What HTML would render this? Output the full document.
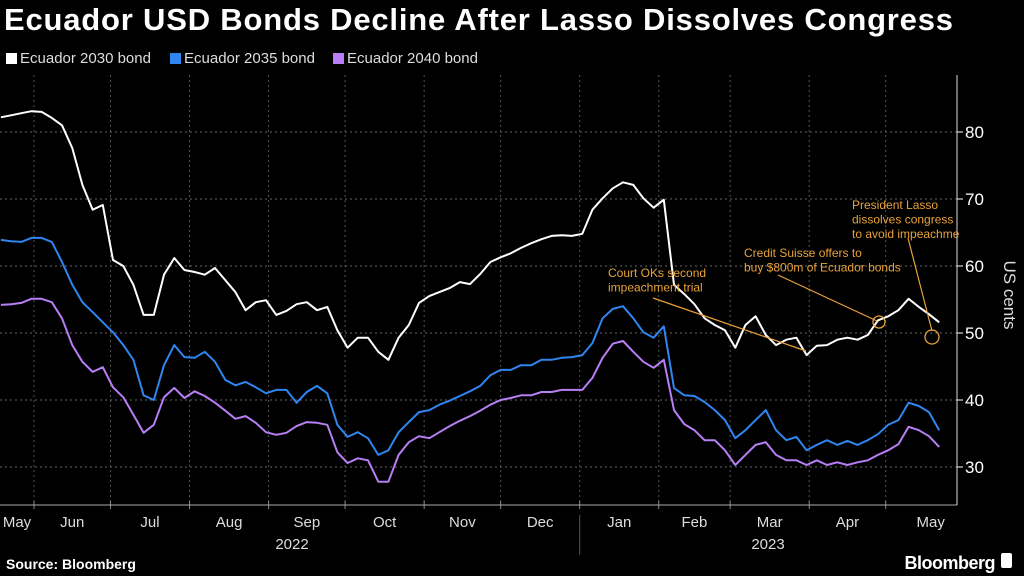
<!DOCTYPE html>
<html><head><meta charset="utf-8"><style>
html,body{margin:0;padding:0;background:#000;width:1024px;height:576px;overflow:hidden;font-family:"Liberation Sans",sans-serif;color:#fff}
#title{position:absolute;left:4px;top:2px;font-size:31px;font-weight:bold;letter-spacing:0.8px;white-space:nowrap}
.leg{position:absolute;top:50px;font-size:15px;color:#ddd;white-space:nowrap}
.sw{display:inline-block;width:11px;height:11px;margin-right:3px;vertical-align:-1px}
</style></head><body>
<div id="title">Ecuador USD Bonds Decline After Lasso Dissolves Congress</div>
<div class="leg" style="left:6px"><span class="sw" style="background:#fff"></span>Ecuador 2030 bond</div>
<div class="leg" style="left:170px"><span class="sw" style="background:#2f86f0"></span>Ecuador 2035 bond</div>
<div class="leg" style="left:333px"><span class="sw" style="background:#b87ff5"></span>Ecuador 2040 bond</div>
<svg id="chart" width="1024" height="576" style="position:absolute;left:0;top:0"></svg>
<script>
const yTicks=[30,40,50,60,70,80];
const months=["May","Jun","Jul","Aug","Sep","Oct","Nov","Dec","Jan","Feb","Mar","Apr","May"];
const monthStartDays=[-31,0,30,61,92,122,153,183,214,245,273,304,334];
const s2030=[82.2,82.5,82.8,83.1,83.0,82.1,81.0,77.6,72.1,68.4,69.1,60.9,60.0,57.2,52.7,52.7,58.7,61.2,59.4,59.1,58.7,59.7,57.9,56.1,53.4,54.6,54.9,52.7,53.3,54.3,54.6,53.4,53.9,50.4,47.8,49.3,49.3,47.2,46.0,49.3,51.2,54.5,55.5,56.1,56.7,57.6,57.3,58.8,60.6,61.3,61.9,62.7,63.4,64.0,64.5,64.6,64.5,64.8,68.4,70.1,71.6,72.5,72.1,70.1,68.7,69.9,57.2,55.8,54.3,52.2,51.2,50.4,47.8,51.2,52.5,49.7,48.2,49.0,49.3,46.7,48.1,48.2,49.0,49.3,49.0,49.7,51.9,52.5,53.4,55.1,53.9,52.8,51.6];
const s2035=[63.9,63.7,63.6,64.2,64.2,63.6,60.6,57.2,54.6,53.1,51.6,50.1,48.2,46.0,40.7,40.0,45.2,48.2,46.4,46.3,47.2,45.7,43.0,42.2,42.7,41.9,41.0,41.5,41.5,39.6,41.2,42.1,41.0,36.3,34.5,35.2,34.3,31.8,32.5,35.2,36.7,38.2,38.5,39.3,39.9,40.6,41.3,42.1,43.7,44.5,44.5,45.2,45.2,46.0,46.0,46.3,46.4,46.7,48.5,52.2,53.6,54.0,52.2,50.1,49.3,51.0,41.8,40.7,40.6,39.7,38.5,37.0,34.3,35.5,37.0,38.5,35.5,34.0,34.5,32.5,33.3,34.0,33.3,33.9,33.3,34.0,34.9,36.3,37.0,39.6,39.1,38.2,35.5];
const s2040=[54.2,54.3,54.5,55.1,55.1,54.6,52.2,48.2,45.7,44.2,44.9,41.9,40.4,37.8,35.1,36.3,40.4,41.8,40.3,41.3,40.6,39.6,38.4,37.2,37.6,36.6,35.2,34.8,35.1,36.1,36.7,36.6,36.3,32.2,30.6,31.3,31.0,27.8,27.8,31.8,33.7,34.6,34.3,35.2,36.1,36.9,37.6,38.4,39.3,40.0,40.3,40.7,40.7,41.2,41.2,41.5,41.5,41.5,43.3,46.3,48.4,48.8,47.2,45.7,44.8,46.0,38.5,36.4,35.5,34.0,34.0,32.5,30.3,31.8,33.3,33.7,31.8,31.0,31.0,30.3,31.0,30.3,30.7,30.3,30.7,31.0,31.8,32.5,33.4,36.0,35.5,34.6,33.0];
const startDay=-13, stepDays=4;
const days=[];for(let i=0;i<s2030.length;i++)days.push(startDay+i*stepDays);

const NS="http://www.w3.org/2000/svg";
const svg=document.getElementById('chart');
const X=d=>34+d*2.55;
const Y=v=>132+(80-v)*6.7;
const plotR=957, plotT=75, plotB=505;
function mk(t,a,p){const e=document.createElementNS(NS,t);for(const k in a)e.setAttribute(k,a[k]);(p||svg).appendChild(e);return e;}

yTicks.forEach(v=>{
  const g=mk('line',{x1:0,x2:plotR,y1:Y(v),y2:Y(v),stroke:'#666','stroke-width':1,'stroke-dasharray':'2,3'});
  
  
  const tk=mk('line',{x1:plotR,x2:plotR+6,y1:Y(v),y2:Y(v),stroke:'#fff'});
  
  
  const t=mk('text',{x:plotR+8,y:Y(v)+6,fill:'#fff','font-size':17,'font-family':'Liberation Sans'});
  t.textContent=v;
  
  
});
for(let i=1;i<monthStartDays.length;i++){
  const x=X(monthStartDays[i]);
  const g=mk('line',{x1:x,x2:x,y1:plotT,y2:plotB,stroke:'#555','stroke-width':1,'stroke-dasharray':'2,3'});
  
  
  const tk=mk('line',{x1:x,x2:x,y1:plotB-4,y2:plotB+4,stroke:'#888'});
  
  
}
for(let i=0;i<months.length;i++){
  const a=monthStartDays[i], b=i+1<monthStartDays.length?monthStartDays[i+1]:monthStartDays[i]+31;
  let cx=X((a+b)/2); if(i==0)cx=17; if(i==months.length-1)cx=X(a)+45;
  const t=mk('text',{x:cx,y:527,fill:'#ddd','font-size':15,'text-anchor':'middle','font-family':'Liberation Sans'});
  t.textContent=months[i];
  
  
}
mk('line',{x1:0,x2:plotR,y1:plotB,y2:plotB,stroke:'#aaa'});
mk('line',{x1:plotR,x2:plotR,y1:plotT,y2:plotB,stroke:'#ddd'});
mk('line',{x1:X(214),x2:X(214),y1:515,y2:555,stroke:'#555'});
[['2022',292],['2023',768]].forEach(([t,x])=>{const e=mk('text',{x:x,y:549,fill:'#ddd','font-size':15,'text-anchor':'middle'});e.textContent=t;});
const yt=mk('text',{x:1004,y:295,fill:'#ddd','font-size':17,'text-anchor':'middle',transform:'rotate(90 1004 295)'});
yt.textContent='US cents';



[[s2040,'#b87ff5','line-2040'],[s2035,'#2f86f0','line-2035'],[s2030,'#ffffff','line-2030']].forEach(([s,c,n])=>{
  const pts=s.map((v,i)=>X(days[i]).toFixed(1)+','+Y(v).toFixed(1)).join(' ');
  const p=mk('polyline',{points:pts,fill:'none',stroke:c,'stroke-width':2,'stroke-linejoin':'round'});
  
  
});

const O='#e8a23a';
function note(lines,x,y,name){lines.forEach((l,i)=>{const t=mk('text',{x:x,y:y+i*14.5,fill:O,'font-size':12,'font-family':'Liberation Sans'});t.textContent=l;});}
note(['Court OKs second','impeachment trial'],608,277,'annotation-court');
note(['Credit Suisse offers to','buy $800m of Ecuador bonds'],744,257,'annotation-credit-suisse');
note(['President Lasso','dissolves congress','to avoid impeachme'],852,209,'annotation-lasso');
[[653,298,806,351],[778,275,877,321],[908,238,932,331]].forEach(a=>{const l=mk('line',{x1:a[0],y1:a[1],x2:a[2],y2:a[3],stroke:O,'stroke-width':1.2});});
[[879,322,6],[932,337,7]].forEach(c=>{const e=mk('circle',{cx:c[0],cy:c[1],r:c[2],fill:'none',stroke:O,'stroke-width':1.3});});
const s=mk('text',{x:6,y:569,fill:'#fff','font-size':14,'font-weight':'bold'});s.textContent='Source: Bloomberg';
const b=mk('text',{x:995,y:569,fill:'#fff','font-size':18,'font-weight':'bold','text-anchor':'end','letter-spacing':'-0.5'});b.textContent='Bloomberg';
mk('rect',{x:1001,y:553,width:11,height:15,rx:2,fill:'#fff'});
</script>
</body></html>
